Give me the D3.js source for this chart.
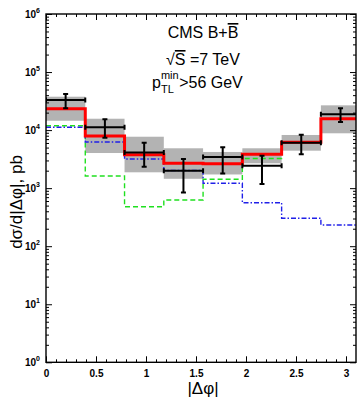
<!DOCTYPE html>
<html>
<head>
<meta charset="utf-8">
<script src="https://cdn.jsdelivr.net/npm/d3@7"></script>
<style>
  body { margin: 0; background: #fff; }
  text { font-family: "Liberation Sans", Arial, sans-serif; fill: #000; }
</style>
</head>
<body>
<svg id="chart" width="358" height="400"></svg>
<script>
// bin edges in |dphi| (8 bins of pi/8)
const binEdges = [0, 0.3927, 0.7854, 1.1781, 1.5708, 1.9635, 2.3562, 2.7489, 3.1416];
// CMS data points, with error bars
const cmsVal = [33000, 11200, 4100, 2000, 3450, 2440, 6070, 18700];
const cmsLo  = [23750, 7400, 2340, 840, 1780, 1180, 3830, 13800];
const cmsHi  = [41900, 15350, 6070, 3180, 5050, 3620, 8340, 23750];
// gray systematic band
const bandLo = [14500, 4030, 1875, 1450, 1720, 2680, 4420, 8810];
const bandHi = [37600, 15700, 7690, 4860, 4200, 4860, 8240, 26700];
// theory curves
const totalVal = [23400, 7900, 3780, 2680, 2630, 3830, 6160, 15700];
const greenVal = [11900, 1620, 479, 625, 1420, 3250, 6160, 15700];
const blueVal  = [11200, 6240, 3180, 2015, 1213, 561, 303, 232];
const xTickVals = [0, 0.5, 1, 1.5, 2, 2.5, 3];
const yDecades = [0, 1, 2, 3, 4, 5, 6];

const svg = d3.select("#chart");
const x = d3.scaleLinear().domain([0, 3.1]).range([46, 356]);
const y = d3.scaleLog().domain([1, 1e6]).range([362.3, 14]);
const [x0, x1] = x.range();
const [yb, yt] = y.range();

svg.append("defs").append("clipPath").attr("id", "plot")
  .append("rect").attr("x", x0).attr("y", yt).attr("width", x1 - x0).attr("height", yb - yt);

const plot = svg.append("g").attr("clip-path", "url(#plot)");
const bins = d3.range(cmsVal.length);

// gray bands
plot.selectAll("rect.band").data(bins).join("rect")
  .attr("x", i => x(binEdges[i]))
  .attr("width", i => x(binEdges[i + 1]) - x(binEdges[i]))
  .attr("y", i => y(bandHi[i]))
  .attr("height", i => y(bandLo[i]) - y(bandHi[i]))
  .attr("fill", "#b3b3b3");

// step lines
function stepPath(vals) {
  const pts = vals.map((v, i) => [binEdges[i], v]);
  pts.push([binEdges[vals.length], vals[vals.length - 1]]);
  return d3.line().curve(d3.curveStepAfter).x(d => x(d[0])).y(d => y(d[1]))(pts);
}
plot.append("path").attr("d", stepPath(greenVal)).attr("fill", "none")
  .attr("stroke", "#1fe01f").attr("stroke-width", 1.4).attr("stroke-dasharray", "5,3");
plot.append("path").attr("d", stepPath(blueVal)).attr("fill", "none")
  .attr("stroke", "#2020e8").attr("stroke-width", 1.4).attr("stroke-dasharray", "5,2,1.5,2");
plot.append("path").attr("d", stepPath(totalVal)).attr("fill", "none")
  .attr("stroke", "#ff0000").attr("stroke-width", 3);

// data crosses
const pts = plot.append("g").attr("stroke", "#000").attr("stroke-width", 2);
const cap = 2.5;
bins.forEach(i => {
  const xa = x(binEdges[i]), xb = x(binEdges[i + 1]), xc = (xa + xb) / 2;
  const yc = y(cmsVal[i]), ylo = y(cmsLo[i]), yhi = y(cmsHi[i]);
  pts.append("line").attr("x1", xa).attr("x2", xb).attr("y1", yc).attr("y2", yc);
  pts.append("line").attr("x1", xa).attr("x2", xa).attr("y1", yc - cap).attr("y2", yc + cap);
  pts.append("line").attr("x1", xb).attr("x2", xb).attr("y1", yc - cap).attr("y2", yc + cap);
  pts.append("line").attr("x1", xc).attr("x2", xc).attr("y1", yhi).attr("y2", ylo);
  pts.append("line").attr("x1", xc - cap).attr("x2", xc + cap).attr("y1", yhi).attr("y2", yhi);
  pts.append("line").attr("x1", xc - cap).attr("x2", xc + cap).attr("y1", ylo).attr("y2", ylo);
});

// axes (ticks inside on all four sides)
const xMinor = d3.range(0, 3.1, 0.1);
const yMinor = [];
yDecades.slice(0, -1).forEach(k => { for (let m = 2; m < 10; m++) yMinor.push(m * Math.pow(10, k)); });
const yMajor = yDecades.map(k => Math.pow(10, k));

function tickStyle(g) {
  g.select(".domain").remove();
  g.selectAll("line").attr("stroke", "#000").attr("stroke-width", 1);
}
svg.append("g").attr("transform", `translate(0,${yb})`)
  .call(d3.axisBottom(x).tickValues(xMinor).tickSize(-3).tickFormat("")).call(tickStyle);
svg.append("g").attr("transform", `translate(0,${yb})`)
  .call(d3.axisBottom(x).tickValues(xTickVals).tickSize(-6).tickPadding(7.5).tickFormat(d => String(d)))
  .call(tickStyle)
  .call(g => g.selectAll("text").attr("font-size", 10).attr("font-weight", "bold")
    .attr("font-family", "'Liberation Sans', Arial, sans-serif"));
svg.append("g").attr("transform", `translate(0,${yt})`)
  .call(d3.axisTop(x).tickValues(xMinor).tickSize(-3).tickFormat("")).call(tickStyle);
svg.append("g").attr("transform", `translate(0,${yt})`)
  .call(d3.axisTop(x).tickValues(xTickVals).tickSize(-6).tickFormat("")).call(tickStyle);

svg.append("g").attr("transform", `translate(${x0},0)`)
  .call(d3.axisLeft(y).tickValues(yMinor).tickSize(-3).tickFormat("")).call(tickStyle);
svg.append("g").attr("transform", `translate(${x0},0)`)
  .call(d3.axisLeft(y).tickValues(yMajor).tickSize(-6).tickFormat("")).call(tickStyle);
svg.append("g").attr("transform", `translate(${x1},0)`)
  .call(d3.axisRight(y).tickValues(yMinor).tickSize(-3).tickFormat("")).call(tickStyle);
svg.append("g").attr("transform", `translate(${x1},0)`)
  .call(d3.axisRight(y).tickValues(yMajor).tickSize(-6).tickFormat("")).call(tickStyle);

// y tick labels 10^k
const ylab = svg.append("g").selectAll("text").data(yDecades).join("text")
  .attr("x", x0 - 6).attr("y", k => y(Math.pow(10, k)) + 4)
  .attr("text-anchor", "end").attr("font-size", 10).attr("font-weight", "bold");
ylab.append("tspan").text("10");
ylab.append("tspan").attr("font-size", 7).attr("dy", -5).text(k => k);

// frame
svg.append("rect").attr("x", x0).attr("y", yt).attr("width", x1 - x0).attr("height", yb - yt)
  .attr("fill", "none").attr("stroke", "#000").attr("stroke-width", 1.4);

// axis titles
svg.append("text").attr("x", 203).attr("y", 394).attr("text-anchor", "middle")
  .attr("font-size", 17).text("|Δφ|");
svg.append("text").attr("transform", "translate(22,202) rotate(-90)")
  .attr("text-anchor", "middle").attr("font-size", 17).text("dσ/d|Δφ|, pb");

// annotation
const cx = 203;
const t1 = svg.append("text").attr("x", cx).attr("y", 38).attr("text-anchor", "middle").attr("font-size", 16);
t1.append("tspan").text("CMS B+");
t1.append("tspan").style("text-decoration", "overline").text("B");
const t2 = svg.append("text").attr("x", cx).attr("y", 65).attr("text-anchor", "middle").attr("font-size", 16);
t2.append("tspan").text("√");
t2.append("tspan").style("text-decoration", "overline").text("S");
t2.append("tspan").text(" =7 TeV");

const l3 = svg.append("g");
const xs = 152, base = 88;
const pT = l3.append("text").attr("x", xs).attr("y", base).attr("font-size", 16).text("p");
const pw = pT.node().getComputedTextLength();
const sup = l3.append("text").attr("x", xs + pw).attr("y", base - 9).attr("font-size", 11).text("min");
const sub = l3.append("text").attr("x", xs + pw).attr("y", base + 5).attr("font-size", 11).text("TL");
const sw = Math.max(sup.node().getComputedTextLength(), sub.node().getComputedTextLength());
l3.append("text").attr("x", xs + pw + sw + 0.5).attr("y", base).attr("font-size", 16).text(">56 GeV");
</script>
</body>
</html>
